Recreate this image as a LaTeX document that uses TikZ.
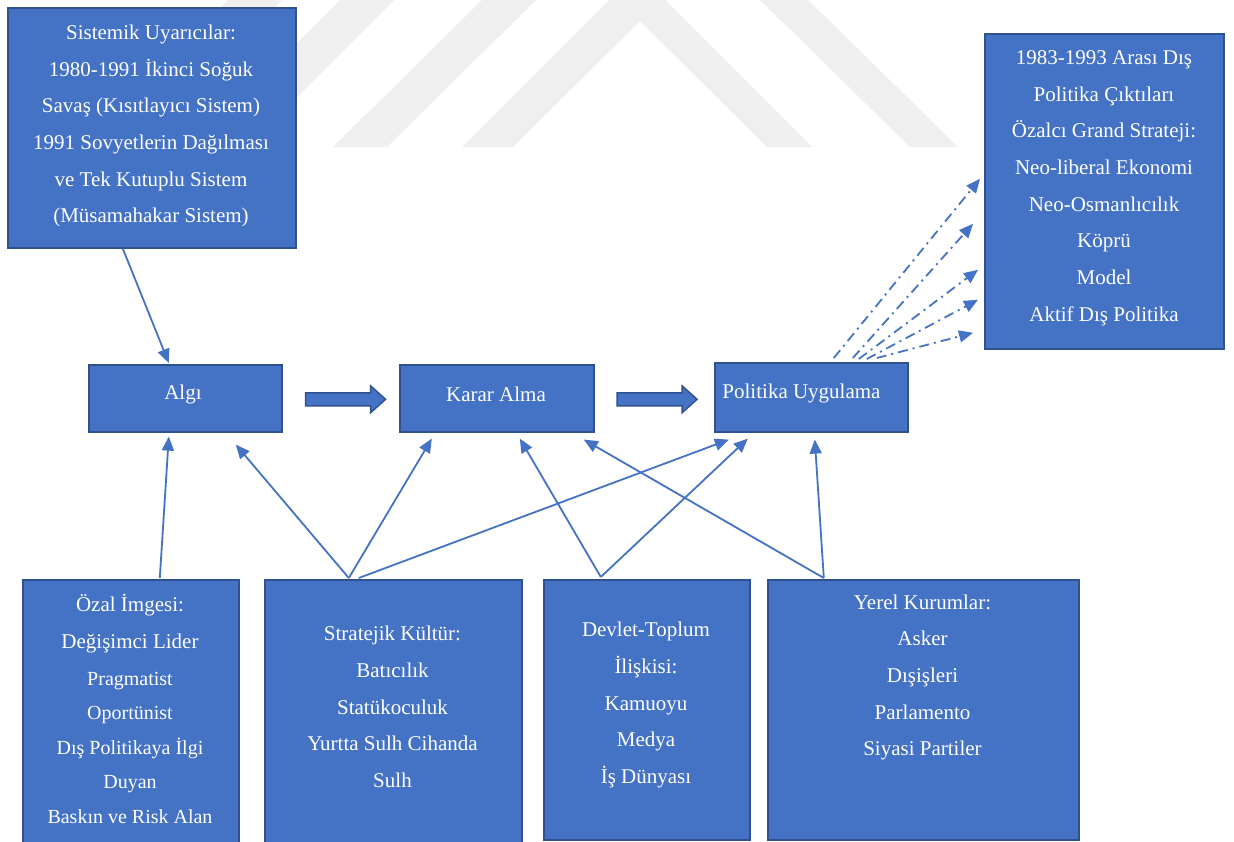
\documentclass[tikz,border=0pt]{standalone}
\usepackage{fontspec}
\setmainfont{Liberation Serif}
\usetikzlibrary{arrows.meta,calc}
\definecolor{ofill}{HTML}{4472C4}
\definecolor{oborder}{HTML}{2F528F}
\definecolor{wmark}{HTML}{EFEFEF}
\newcommand{\ozsmall}{\fontsize{20}{24}\selectfont}
\begin{document}
\begin{tikzpicture}[x=1pt,y=-1pt,
  box/.style={draw=oborder, fill=ofill, line width=1.6pt, inner sep=0pt, anchor=north west},
  txt/.style={text=white, align=center, font=\fontsize{21}{36.7}\selectfont, inner sep=0pt},
  conn/.style={draw=ofill, line width=1.8pt, -{Triangle[length=14pt,width=12pt]}},
  dconn/.style={conn, dash pattern=on 10pt off 5pt on 2pt off 5pt},
  bshape/.style={draw=oborder, fill=ofill, line width=1.4pt, line join=miter}]
\clip (0,0) rectangle (1234,841);
\fill[white] (0,0) rectangle (1234,841);
% watermark
\fill[wmark] (228,0) -- (282,0) -- (135,147) -- (81,147) -- cycle;
\fill[wmark] (340,0) -- (394,0) -- (247,147) -- (193,147) -- cycle;
\fill[wmark] (482,0) -- (536,0) -- (387,147) -- (333,147) -- cycle;
\fill[wmark] (462,147) -- (609,0) -- (665,0) -- (812,147) -- (767,147) -- (640,21) -- (513,147) -- cycle;
\fill[wmark] (760,0) -- (808,0) -- (958,147) -- (910,147) -- cycle;
% boxes
\node[box, minimum width=288pt, minimum height=240pt] (sis) at (7,7) {};
\node[box, minimum width=239pt, minimum height=315pt] (out) at (984,33) {};
\node[box, minimum width=193pt, minimum height=67pt] (algi) at (88,364) {};
\node[box, minimum width=194pt, minimum height=67pt] (karar) at (399,364) {};
\node[box, minimum width=193pt, minimum height=69pt] (pol) at (714,362) {};
\node[box, minimum width=216pt, minimum height=266pt] (ozal) at (22,579) {};
\node[box, minimum width=257pt, minimum height=266pt] (strat) at (264,579) {};
\node[box, minimum width=206pt, minimum height=260pt] (dev) at (543,579) {};
\node[box, minimum width=311pt, minimum height=260pt] (yer) at (767,579) {};
% block arrows
\coordinate (ba1) at ($(algi.east)+(23,0.5)$);
\coordinate (ba2) at ($(karar.east)+(22.5,0.5)$);
\foreach \c in {ba1,ba2}
  \draw[bshape] ($(\c)+(0,-6)$) -- ++(65,0) -- ++(0,-7) -- ++(15,13.5) -- ++(-15,13.5) -- ++(0,-7) -- ++(-65,0) -- cycle;
% texts
\node[txt] (sisT) at (151,126) {Sistemik Uyarıcılar:\\1980-1991 İkinci Soğuk\\Savaş (Kısıtlayıcı Sistem)\\1991 Sovyetlerin Dağılması\\ve Tek Kutuplu Sistem\\(Müsamahakar Sistem)};
\node[txt] (outT) at (1104,188) {1983-1993 Arası Dış\\Politika Çıktıları\\Özalcı Grand Strateji:\\Neo-liberal Ekonomi\\Neo-Osmanlıcılık\\Köprü\\Model\\Aktif Dış Politika};
\node[txt] (algiT) at (183,394) {Algı};
\node[txt] (kararT) at (496,394) {Karar Alma};
\node[txt] (polT) at (801.5,393) {Politika Uygulama};
\node[txt] (ozalT) at (130,709) {Özal İmgesi:\\Değişimci Lider\\{\ozsmall Pragmatist}\\[-2.1pt]{\ozsmall Oportünist}\\[-2.1pt]{\ozsmall Dış Politikaya İlgi}\\[-2.1pt]{\ozsmall Duyan}\\[-2.1pt]{\ozsmall Baskın ve Risk Alan}};
\node[txt] (stratT) at (392.5,707) {Stratejik Kültür:\\Batıcılık\\Statükoculuk\\Yurtta Sulh Cihanda\\Sulh};
\node[txt] (devT) at (646,705) {Devlet-Toplum\\İlişkisi:\\Kamuoyu\\Medya\\İş Dünyası};
\node[txt] (yerT) at (922.5,677.5) {Yerel Kurumlar:\\Asker\\Dışişleri\\Parlamento\\Siyasi Partiler};
% connectors
\draw[conn] ($(sis.south)+(-29,0)$) -- ($(algi.north)+(-16.5,-1)$);
\draw[conn] ($(ozal.north)+(29,-1)$) -- ($(algi.south)+(-16.5,4)$);
\draw[conn] ($(strat.north)+(-44.5,-1)$) -- ($(algi.south)+(50.5,12)$);
\draw[conn] ($(strat.north)+(-44.5,-1)$) -- ($(karar.south)+(-65,6)$);
\draw[conn] ($(strat.north)+(-34.5,-1)$) -- ($(pol.south)+(-82.5,7)$);
\draw[conn] ($(dev.north)+(-46,-2)$) -- ($(karar.south)+(23,6)$);
\draw[conn] ($(dev.north)+(-46,-2)$) -- ($(pol.south)+(-63.5,6)$);
\draw[conn] ($(yer.north)+(-99.5,-1)$) -- ($(karar.south)+(87,7)$);
\draw[conn] ($(yer.north)+(-99.5,-1)$) -- ($(pol.south)+(3.5,7)$);
% dash-dot outputs
\draw[dconn] ($(pol.north)+(22.5,-4)$) -- ($(out.west)+(-4,-12.5)$);
\draw[dconn] ($(pol.north)+(41.5,-4)$) -- ($(out.west)+(-11,32.5)$);
\draw[dconn] ($(pol.north)+(47.5,-3)$) -- ($(out.west)+(-6,78.5)$);
\draw[dconn] ($(pol.north)+(55.5,-3)$) -- ($(out.west)+(-6,108.5)$);
\draw[dconn] ($(pol.north)+(65.5,-4)$) -- ($(out.west)+(-11,141.5)$);
\end{tikzpicture}
\end{document}
